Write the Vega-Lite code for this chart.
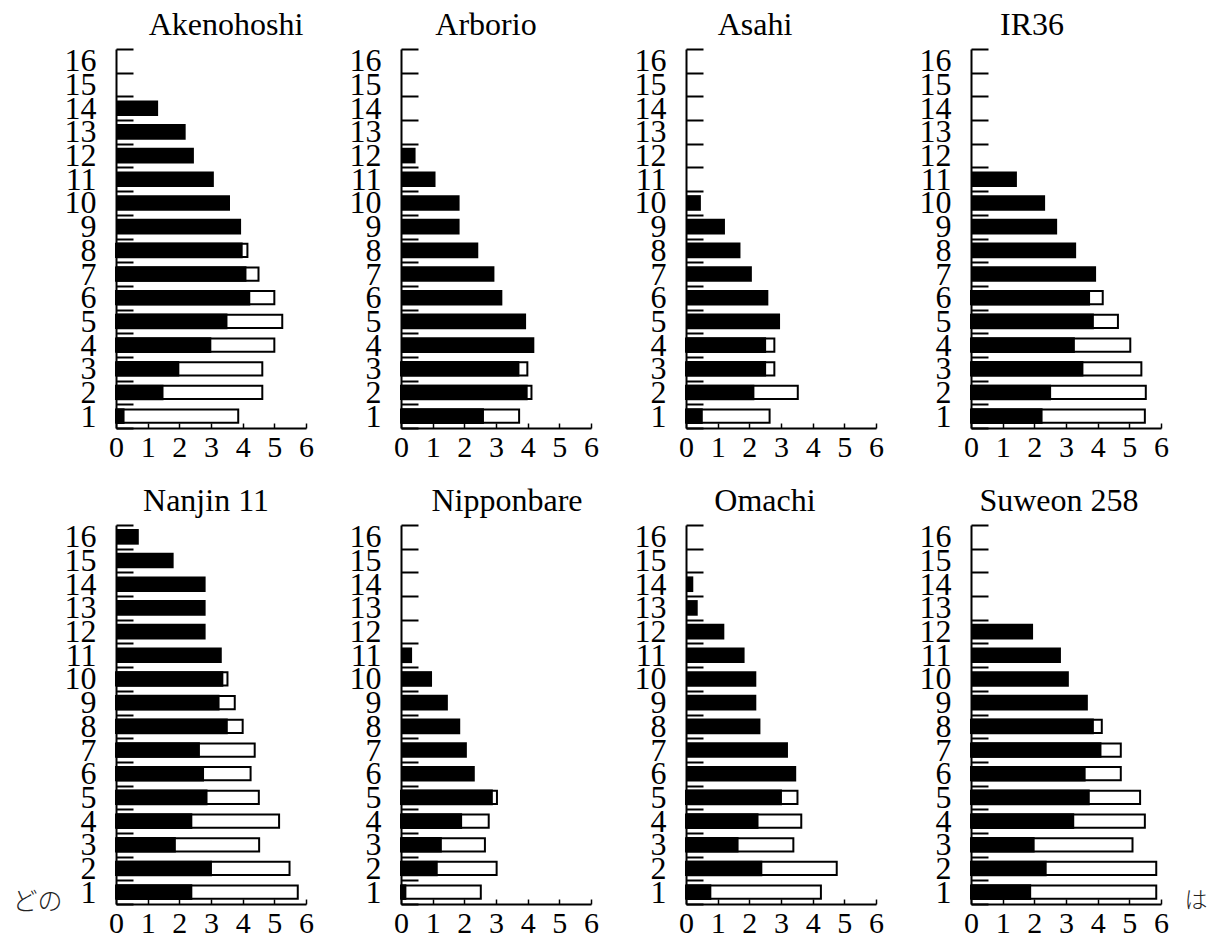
{
  "$schema": "https://vega.github.io/schema/vega-lite/v6.json",
  "padding": {"left": 12, "top": 9, "right": 2, "bottom": 0},
  "data": {"values": [
    {"c":"Akenohoshi","n":1,"k":"b","v":0.27},{"c":"Akenohoshi","n":2,"k":"b","v":1.5},{"c":"Akenohoshi","n":3,"k":"b","v":2.0},{"c":"Akenohoshi","n":4,"k":"b","v":3.01},{"c":"Akenohoshi","n":5,"k":"b","v":3.52},{"c":"Akenohoshi","n":6,"k":"b","v":4.24},{"c":"Akenohoshi","n":7,"k":"b","v":4.12},{"c":"Akenohoshi","n":8,"k":"b","v":4.0},{"c":"Akenohoshi","n":9,"k":"b","v":3.95},{"c":"Akenohoshi","n":10,"k":"b","v":3.6},{"c":"Akenohoshi","n":11,"k":"b","v":3.09},{"c":"Akenohoshi","n":12,"k":"b","v":2.46},{"c":"Akenohoshi","n":13,"k":"b","v":2.2},{"c":"Akenohoshi","n":14,"k":"b","v":1.33},
    {"c":"Akenohoshi","n":1,"k":"w","v":3.86},{"c":"Akenohoshi","n":2,"k":"w","v":4.62},{"c":"Akenohoshi","n":3,"k":"w","v":4.62},{"c":"Akenohoshi","n":4,"k":"w","v":5.0},{"c":"Akenohoshi","n":5,"k":"w","v":5.25},{"c":"Akenohoshi","n":6,"k":"w","v":5.0},{"c":"Akenohoshi","n":7,"k":"w","v":4.5},{"c":"Akenohoshi","n":8,"k":"w","v":4.15},
    {"c":"Arborio","n":1,"k":"b","v":2.62},{"c":"Arborio","n":2,"k":"b","v":4.0},{"c":"Arborio","n":3,"k":"b","v":3.74},{"c":"Arborio","n":4,"k":"b","v":4.21},{"c":"Arborio","n":5,"k":"b","v":3.95},{"c":"Arborio","n":6,"k":"b","v":3.2},{"c":"Arborio","n":7,"k":"b","v":2.95},{"c":"Arborio","n":8,"k":"b","v":2.44},{"c":"Arborio","n":9,"k":"b","v":1.85},{"c":"Arborio","n":10,"k":"b","v":1.85},{"c":"Arborio","n":11,"k":"b","v":1.09},{"c":"Arborio","n":12,"k":"b","v":0.46},
    {"c":"Arborio","n":1,"k":"w","v":3.73},{"c":"Arborio","n":2,"k":"w","v":4.12},{"c":"Arborio","n":3,"k":"w","v":3.99},
    {"c":"Asahi","n":1,"k":"b","v":0.53},{"c":"Asahi","n":2,"k":"b","v":2.16},{"c":"Asahi","n":3,"k":"b","v":2.53},{"c":"Asahi","n":4,"k":"b","v":2.53},{"c":"Asahi","n":5,"k":"b","v":2.97},{"c":"Asahi","n":6,"k":"b","v":2.6},{"c":"Asahi","n":7,"k":"b","v":2.08},{"c":"Asahi","n":8,"k":"b","v":1.72},{"c":"Asahi","n":9,"k":"b","v":1.23},{"c":"Asahi","n":10,"k":"b","v":0.47},
    {"c":"Asahi","n":1,"k":"w","v":2.64},{"c":"Asahi","n":2,"k":"w","v":3.53},{"c":"Asahi","n":3,"k":"w","v":2.79},{"c":"Asahi","n":4,"k":"w","v":2.79},
    {"c":"IR36","n":1,"k":"b","v":2.26},{"c":"IR36","n":2,"k":"b","v":2.53},{"c":"IR36","n":3,"k":"b","v":3.55},{"c":"IR36","n":4,"k":"b","v":3.28},{"c":"IR36","n":5,"k":"b","v":3.88},{"c":"IR36","n":6,"k":"b","v":3.76},{"c":"IR36","n":7,"k":"b","v":3.95},{"c":"IR36","n":8,"k":"b","v":3.32},{"c":"IR36","n":9,"k":"b","v":2.72},{"c":"IR36","n":10,"k":"b","v":2.34},{"c":"IR36","n":11,"k":"b","v":1.45},
    {"c":"IR36","n":1,"k":"w","v":5.49},{"c":"IR36","n":2,"k":"w","v":5.52},{"c":"IR36","n":3,"k":"w","v":5.38},{"c":"IR36","n":4,"k":"w","v":5.03},{"c":"IR36","n":5,"k":"w","v":4.64},{"c":"IR36","n":6,"k":"w","v":4.16},
    {"c":"Nanjin 11","n":1,"k":"b","v":2.41},{"c":"Nanjin 11","n":2,"k":"b","v":3.03},{"c":"Nanjin 11","n":3,"k":"b","v":1.89},{"c":"Nanjin 11","n":4,"k":"b","v":2.41},{"c":"Nanjin 11","n":5,"k":"b","v":2.89},{"c":"Nanjin 11","n":6,"k":"b","v":2.78},{"c":"Nanjin 11","n":7,"k":"b","v":2.65},{"c":"Nanjin 11","n":8,"k":"b","v":3.53},{"c":"Nanjin 11","n":9,"k":"b","v":3.27},{"c":"Nanjin 11","n":10,"k":"b","v":3.39},{"c":"Nanjin 11","n":11,"k":"b","v":3.34},{"c":"Nanjin 11","n":12,"k":"b","v":2.83},{"c":"Nanjin 11","n":13,"k":"b","v":2.83},{"c":"Nanjin 11","n":14,"k":"b","v":2.83},{"c":"Nanjin 11","n":15,"k":"b","v":1.82},{"c":"Nanjin 11","n":16,"k":"b","v":0.72},
    {"c":"Nanjin 11","n":1,"k":"w","v":5.74},{"c":"Nanjin 11","n":2,"k":"w","v":5.48},{"c":"Nanjin 11","n":3,"k":"w","v":4.52},{"c":"Nanjin 11","n":4,"k":"w","v":5.15},{"c":"Nanjin 11","n":5,"k":"w","v":4.51},{"c":"Nanjin 11","n":6,"k":"w","v":4.25},{"c":"Nanjin 11","n":7,"k":"w","v":4.38},{"c":"Nanjin 11","n":8,"k":"w","v":4.0},{"c":"Nanjin 11","n":9,"k":"w","v":3.75},{"c":"Nanjin 11","n":10,"k":"w","v":3.52},
    {"c":"Nipponbare","n":1,"k":"b","v":0.17},{"c":"Nipponbare","n":2,"k":"b","v":1.16},{"c":"Nipponbare","n":3,"k":"b","v":1.29},{"c":"Nipponbare","n":4,"k":"b","v":1.93},{"c":"Nipponbare","n":5,"k":"b","v":2.9},{"c":"Nipponbare","n":6,"k":"b","v":2.33},{"c":"Nipponbare","n":7,"k":"b","v":2.08},{"c":"Nipponbare","n":8,"k":"b","v":1.87},{"c":"Nipponbare","n":9,"k":"b","v":1.48},{"c":"Nipponbare","n":10,"k":"b","v":0.98},{"c":"Nipponbare","n":11,"k":"b","v":0.35},
    {"c":"Nipponbare","n":1,"k":"w","v":2.52},{"c":"Nipponbare","n":2,"k":"w","v":3.02},{"c":"Nipponbare","n":3,"k":"w","v":2.65},{"c":"Nipponbare","n":4,"k":"w","v":2.77},{"c":"Nipponbare","n":5,"k":"w","v":3.03},
    {"c":"Omachi","n":1,"k":"b","v":0.8},{"c":"Omachi","n":2,"k":"b","v":2.41},{"c":"Omachi","n":3,"k":"b","v":1.66},{"c":"Omachi","n":4,"k":"b","v":2.29},{"c":"Omachi","n":5,"k":"b","v":3.03},{"c":"Omachi","n":6,"k":"b","v":3.48},{"c":"Omachi","n":7,"k":"b","v":3.22},{"c":"Omachi","n":8,"k":"b","v":2.35},{"c":"Omachi","n":9,"k":"b","v":2.22},{"c":"Omachi","n":10,"k":"b","v":2.22},{"c":"Omachi","n":11,"k":"b","v":1.85},{"c":"Omachi","n":12,"k":"b","v":1.21},{"c":"Omachi","n":13,"k":"b","v":0.37},{"c":"Omachi","n":14,"k":"b","v":0.23},
    {"c":"Omachi","n":1,"k":"w","v":4.26},{"c":"Omachi","n":2,"k":"w","v":4.76},{"c":"Omachi","n":3,"k":"w","v":3.39},{"c":"Omachi","n":4,"k":"w","v":3.64},{"c":"Omachi","n":5,"k":"w","v":3.52},
    {"c":"Suweon 258","n":1,"k":"b","v":1.9},{"c":"Suweon 258","n":2,"k":"b","v":2.39},{"c":"Suweon 258","n":3,"k":"b","v":2.01},{"c":"Suweon 258","n":4,"k":"b","v":3.26},{"c":"Suweon 258","n":5,"k":"b","v":3.75},{"c":"Suweon 258","n":6,"k":"b","v":3.62},{"c":"Suweon 258","n":7,"k":"b","v":4.12},{"c":"Suweon 258","n":8,"k":"b","v":3.88},{"c":"Suweon 258","n":9,"k":"b","v":3.69},{"c":"Suweon 258","n":10,"k":"b","v":3.09},{"c":"Suweon 258","n":11,"k":"b","v":2.84},{"c":"Suweon 258","n":12,"k":"b","v":1.96},
    {"c":"Suweon 258","n":1,"k":"w","v":5.85},{"c":"Suweon 258","n":2,"k":"w","v":5.85},{"c":"Suweon 258","n":3,"k":"w","v":5.1},{"c":"Suweon 258","n":4,"k":"w","v":5.49},{"c":"Suweon 258","n":5,"k":"w","v":5.34},{"c":"Suweon 258","n":6,"k":"w","v":4.73},{"c":"Suweon 258","n":7,"k":"w","v":4.73},{"c":"Suweon 258","n":8,"k":"w","v":4.13}
  ]},
  "columns": 4,
  "bounds": "flush",
  "spacing": {"row": 97, "column": 95},
  "concat": [
    {"title": {"text": "Akenohoshi", "dx": 15, "dy": 15}, "width": 190, "height": 379,
     "transform": [{"filter": "datum.c === 'Akenohoshi'"}],
     "encoding": {"y": {"field": "n", "type": "ordinal", "scale": {"domain": [16,15,14,13,12,11,10,9,8,7,6,5,4,3,2,1], "paddingInner": 0, "paddingOuter": 0}, "axis": {"title": null}},
                  "x": {"field": "v", "type": "quantitative", "scale": {"domain": [0, 6], "nice": false}, "axis": {"title": null}}},
     "layer": [{"transform": [{"filter": "datum.k === 'w'"}], "mark": {"type": "bar", "fill": "white", "stroke": "black", "strokeWidth": 2, "height": {"band": 0.56}}},
               {"transform": [{"filter": "datum.k === 'b'"}], "mark": {"type": "bar", "fill": "black", "height": {"band": 0.66}}}]},
    {"title": {"text": "Arborio", "dx": -10, "dy": 15}, "width": 190, "height": 379,
     "transform": [{"filter": "datum.c === 'Arborio'"}],
     "encoding": {"y": {"field": "n", "type": "ordinal", "scale": {"domain": [16,15,14,13,12,11,10,9,8,7,6,5,4,3,2,1], "paddingInner": 0, "paddingOuter": 0}, "axis": {"title": null}},
                  "x": {"field": "v", "type": "quantitative", "scale": {"domain": [0, 6], "nice": false}, "axis": {"title": null}}},
     "layer": [{"transform": [{"filter": "datum.k === 'w'"}], "mark": {"type": "bar", "fill": "white", "stroke": "black", "strokeWidth": 2, "height": {"band": 0.56}}},
               {"transform": [{"filter": "datum.k === 'b'"}], "mark": {"type": "bar", "fill": "black", "height": {"band": 0.66}}}]},
    {"title": {"text": "Asahi", "dx": -26, "dy": 15}, "width": 190, "height": 379,
     "transform": [{"filter": "datum.c === 'Asahi'"}],
     "encoding": {"y": {"field": "n", "type": "ordinal", "scale": {"domain": [16,15,14,13,12,11,10,9,8,7,6,5,4,3,2,1], "paddingInner": 0, "paddingOuter": 0}, "axis": {"title": null}},
                  "x": {"field": "v", "type": "quantitative", "scale": {"domain": [0, 6], "nice": false}, "axis": {"title": null}}},
     "layer": [{"transform": [{"filter": "datum.k === 'w'"}], "mark": {"type": "bar", "fill": "white", "stroke": "black", "strokeWidth": 2, "height": {"band": 0.56}}},
               {"transform": [{"filter": "datum.k === 'b'"}], "mark": {"type": "bar", "fill": "black", "height": {"band": 0.66}}}]},
    {"title": {"text": "IR36", "dx": -34, "dy": 15}, "width": 190, "height": 379,
     "transform": [{"filter": "datum.c === 'IR36'"}],
     "encoding": {"y": {"field": "n", "type": "ordinal", "scale": {"domain": [16,15,14,13,12,11,10,9,8,7,6,5,4,3,2,1], "paddingInner": 0, "paddingOuter": 0}, "axis": {"title": null}},
                  "x": {"field": "v", "type": "quantitative", "scale": {"domain": [0, 6], "nice": false}, "axis": {"title": null}}},
     "layer": [{"transform": [{"filter": "datum.k === 'w'"}], "mark": {"type": "bar", "fill": "white", "stroke": "black", "strokeWidth": 2, "height": {"band": 0.56}}},
               {"transform": [{"filter": "datum.k === 'b'"}], "mark": {"type": "bar", "fill": "black", "height": {"band": 0.66}}}]},
    {"title": {"text": "Nanjin 11", "dx": -5, "dy": 15}, "width": 190, "height": 379,
     "transform": [{"filter": "datum.c === 'Nanjin 11'"}],
     "encoding": {"y": {"field": "n", "type": "ordinal", "scale": {"domain": [16,15,14,13,12,11,10,9,8,7,6,5,4,3,2,1], "paddingInner": 0, "paddingOuter": 0},
                        "axis": {"title": "どの", "titleAngle": 0, "titleAlign": "left", "titleBaseline": "middle", "titleX": -104, "titleY": 376, "titleFont": "Noto Sans CJK JP", "titleFontSize": 25, "titleFontWeight": 300, "titleColor": "#222222"}},
                  "x": {"field": "v", "type": "quantitative", "scale": {"domain": [0, 6], "nice": false}, "axis": {"title": null}}},
     "layer": [{"transform": [{"filter": "datum.k === 'w'"}], "mark": {"type": "bar", "fill": "white", "stroke": "black", "strokeWidth": 2, "height": {"band": 0.56}}},
               {"transform": [{"filter": "datum.k === 'b'"}], "mark": {"type": "bar", "fill": "black", "height": {"band": 0.66}}}]},
    {"title": {"text": "Nipponbare", "dx": 11, "dy": 15}, "width": 190, "height": 379,
     "transform": [{"filter": "datum.c === 'Nipponbare'"}],
     "encoding": {"y": {"field": "n", "type": "ordinal", "scale": {"domain": [16,15,14,13,12,11,10,9,8,7,6,5,4,3,2,1], "paddingInner": 0, "paddingOuter": 0}, "axis": {"title": null}},
                  "x": {"field": "v", "type": "quantitative", "scale": {"domain": [0, 6], "nice": false}, "axis": {"title": null}}},
     "layer": [{"transform": [{"filter": "datum.k === 'w'"}], "mark": {"type": "bar", "fill": "white", "stroke": "black", "strokeWidth": 2, "height": {"band": 0.56}}},
               {"transform": [{"filter": "datum.k === 'b'"}], "mark": {"type": "bar", "fill": "black", "height": {"band": 0.66}}}]},
    {"title": {"text": "Omachi", "dx": -16, "dy": 15}, "width": 190, "height": 379,
     "transform": [{"filter": "datum.c === 'Omachi'"}],
     "encoding": {"y": {"field": "n", "type": "ordinal", "scale": {"domain": [16,15,14,13,12,11,10,9,8,7,6,5,4,3,2,1], "paddingInner": 0, "paddingOuter": 0}, "axis": {"title": null}},
                  "x": {"field": "v", "type": "quantitative", "scale": {"domain": [0, 6], "nice": false}, "axis": {"title": null}}},
     "layer": [{"transform": [{"filter": "datum.k === 'w'"}], "mark": {"type": "bar", "fill": "white", "stroke": "black", "strokeWidth": 2, "height": {"band": 0.56}}},
               {"transform": [{"filter": "datum.k === 'b'"}], "mark": {"type": "bar", "fill": "black", "height": {"band": 0.66}}}]},
    {"title": {"text": "Suweon 258", "dx": -7, "dy": 15}, "width": 190, "height": 379,
     "transform": [{"filter": "datum.c === 'Suweon 258'"}],
     "encoding": {"y": {"field": "n", "type": "ordinal", "scale": {"domain": [16,15,14,13,12,11,10,9,8,7,6,5,4,3,2,1], "paddingInner": 0, "paddingOuter": 0}, "axis": {"title": null}},
                  "x": {"field": "v", "type": "quantitative", "scale": {"domain": [0, 6], "nice": false},
                        "axis": {"title": "は", "titleAlign": "left", "titleBaseline": "middle", "titleX": 213, "titleY": -4, "titleFont": "Noto Sans CJK JP", "titleFontSize": 23, "titleFontWeight": 300, "titleColor": "#222222"}}},
     "layer": [{"transform": [{"filter": "datum.k === 'w'"}], "mark": {"type": "bar", "fill": "white", "stroke": "black", "strokeWidth": 2, "height": {"band": 0.56}}},
               {"transform": [{"filter": "datum.k === 'b'"}], "mark": {"type": "bar", "fill": "black", "height": {"band": 0.66}}}]}
  ],
  "config": {
    "view": {"stroke": null},
    "font": "Liberation Serif",
    "title": {"font": "Liberation Serif", "fontSize": 32, "fontWeight": "normal", "color": "black", "offset": 6, "anchor": "middle"},
    "axis": {"domainColor": "black", "domainWidth": 2, "tickColor": "black", "labelColor": "black", "labelFont": "Liberation Serif", "grid": false},
    "axisY": {"tickBand": "extent", "tickSize": -17, "tickWidth": 2, "labelPadding": 37, "labelAngle": 0, "labelFontSize": 32},
    "axisX": {"tickSize": -5, "tickWidth": 1.5, "values": [0, 1, 2, 3, 4, 5, 6], "labelPadding": 9, "labelFlush": false, "labelFontSize": 30}
  }
}
